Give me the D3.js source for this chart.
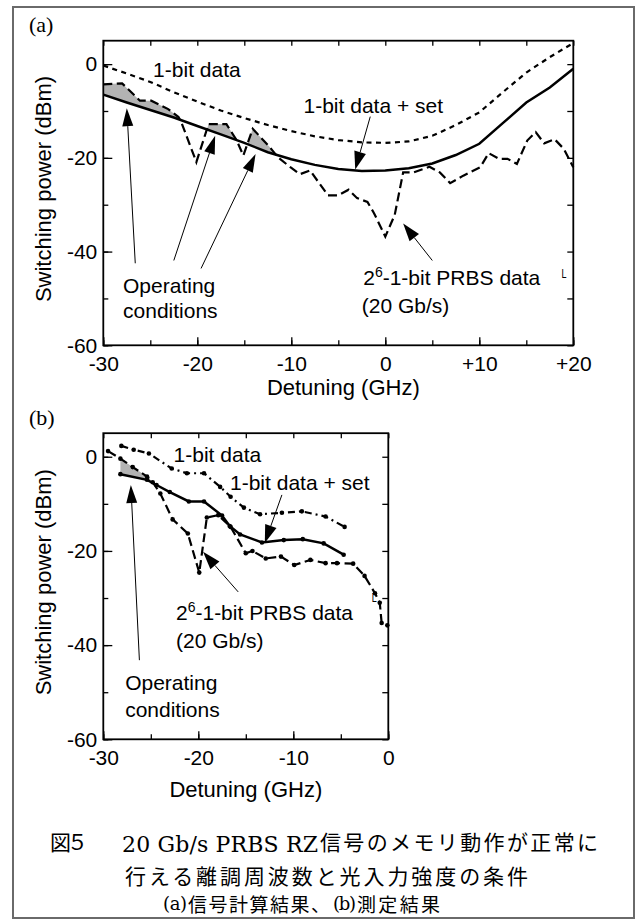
<!DOCTYPE html>
<html>
<head>
<meta charset="utf-8">
<script src="https://cdn.jsdelivr.net/npm/d3@7"></script>
<style>
  body { margin: 0; background: #fff; }
  svg text { font-family: "Liberation Sans", Arial, sans-serif; fill: #000; }
</style>
</head>
<body>
<svg id="fig" width="642" height="924"></svg>
<script>
// ---- tick values ----
const xTicksA = [-30, -20, -10, 0, 10, 20];
const xTicksB = [-30, -20, -10, 0];
const yTicks = [0, -20, -40, -60];

// ---- (a) calculation: [detuning GHz, switching power dBm] ----
const calcOneBit = [[-30,-0.3],[-27.5,-2],[-25,-3.8],[-22.5,-6],[-20,-8],[-17.5,-9.9],[-15,-11.5],[-12.5,-13],
  [-10,-14.3],[-7.5,-15.4],[-5,-16.2],[-2.5,-16.7],[0,-16.8],[2.5,-16.5],[5,-15.3],[7.5,-13],[10,-10.3],
  [12.5,-6],[15,-1.8],[17.5,1.5],[20,4.5]];
const calcOneBitSet = [[-30,-6.5],[-27.5,-8.2],[-25,-9.8],[-22.5,-11.4],[-20,-13.2],[-17.5,-15],[-15,-16.8],
  [-12.5,-18.8],[-10,-20.3],[-7.5,-21.5],[-5,-22.4],[-2.5,-22.8],[0,-22.7],[2.5,-22.2],[5,-21.2],[7.5,-19.4],
  [10,-17],[12.5,-12.6],[15,-8.2],[17.5,-5],[20,-1]];
const calcPrbs = [[-30,-4.3],[-28,-4.1],[-26.1,-7.8],[-24.9,-7.8],[-23.1,-9.6],[-22,-11.3],[-21.7,-12.4],
  [-20.1,-20.9],[-18.8,-12.8],[-16.9,-12.8],[-15.8,-16.3],[-15.1,-19.5],[-14.1,-13.8],[-12.3,-17.7],
  [-11.4,-19.9],[-10.1,-22],[-9.1,-23.5],[-8,-22.7],[-6.1,-28],[-5,-28],[-3.9,-26.8],[-3,-28.6],[-1.9,-29.4],
  [-1.2,-31.8],[0,-36.8],[1,-32.2],[1.9,-23.1],[3,-23.1],[4.7,-21.9],[5.8,-23.1],[6.9,-25.4],[8.3,-23.8],
  [10.1,-22],[11,-19],[12.1,-20.2],[13,-20.2],[14,-21.3],[15.1,-16.3],[16,-14.5],[16.9,-16.9],[18,-16],
  [19,-18.1],[20,-22]];

// ---- (b) measurement ----
const measOneBit = [[-28.1,2.3],[-26.8,1.5],[-25.2,0.7],[-22.8,-2.5],[-21.2,-3.5],[-19.4,-3.5],[-17.7,-6.4],
  [-16.6,-8.5],[-15.2,-10.8],[-13.5,-12.2],[-11.2,-11.9],[-9.1,-11.6],[-6.6,-12.7],[-4.6,-14.9]];
const measOneBitSet = [[-28.2,-3.7],[-25.4,-4.9],[-24.4,-6],[-23,-7.5],[-21,-9.5],[-19.4,-9.5],[-17.5,-12.5],
  [-16.7,-14.7],[-15.6,-16.5],[-13.3,-18.2],[-11,-17.7],[-9,-17.5],[-6.8,-18.4],[-4.7,-20.8]];
const measPrbs = [[-29.5,1.2],[-28.2,-0.4],[-26.9,-2.2],[-25.4,-4.2],[-24.8,-5.4],[-24,-7.8],[-22.7,-13.3],
  [-21.1,-16.3],[-19.9,-24.6],[-19.1,-12.9],[-17.9,-12.4],[-16.6,-14.9],[-15,-20.5],[-14.3,-20],[-12.9,-21.6],
  [-11.3,-21.2],[-9.9,-23],[-8.2,-21.9],[-6.6,-22.6],[-5.4,-22.6],[-3.7,-22.7],[-2.5,-25.3],[-1.4,-29],
  [-0.9,-31],[-0.7,-35.3],[-0.1,-35.8]];

const svg = d3.select("#fig");

// outer frame
svg.append("rect").attr("x", 13).attr("y", 7).attr("width", 621).attr("height", 911)
  .attr("fill", "none").attr("stroke", "#6a6a6a").attr("stroke-width", 2);

const fmtX = d => d > 0 ? "+" + d : String(d);

// linear interpolation inside a series
function interp(series, x) {
  const i = d3.bisector(d => d[0]).right(series, x);
  if (i <= 0) return series[0][1];
  if (i >= series.length) return series[series.length - 1][1];
  const a = series[i - 1], b = series[i];
  return a[1] + (b[1] - a[1]) * (x - a[0]) / (b[0] - a[0]);
}

// points for the gray area where "upper" is above "lower"
function shadePoints(upper, lower) {
  const lo = Math.max(upper[0][0], lower[0][0]);
  const hi = Math.min(upper[upper.length - 1][0], lower[lower.length - 1][0]);
  let xs = Array.from(new Set(upper.concat(lower).map(d => d[0])))
    .filter(x => x >= lo && x <= hi).concat([lo, hi]);
  xs = Array.from(new Set(xs)).sort((a, b) => a - b);
  let out = [];
  for (let i = 0; i < xs.length; i++) {
    out.push(xs[i]);
    if (i < xs.length - 1) {
      const d0 = interp(upper, xs[i]) - interp(lower, xs[i]);
      const d1 = interp(upper, xs[i + 1]) - interp(lower, xs[i + 1]);
      if (d0 * d1 < 0) out.push(xs[i] + (xs[i + 1] - xs[i]) * d0 / (d0 - d1));
    }
  }
  return out.map(x => ({x: x, lo: interp(lower, x), hi: Math.max(interp(upper, x), interp(lower, x))}));
}

function arrow(g, x1, y1, x2, y2, len, half) {
  const ang = Math.atan2(y2 - y1, x2 - x1);
  const bx = x2 - len * Math.cos(ang), by = y2 - len * Math.sin(ang);
  g.append("line").attr("x1", x1).attr("y1", y1).attr("x2", bx).attr("y2", by)
    .attr("stroke", "#000").attr("stroke-width", 1);
  g.append("path")
    .attr("d", `M${x2},${y2}L${bx + half * Math.sin(ang)},${by - half * Math.cos(ang)}L${bx - half * Math.sin(ang)},${by + half * Math.cos(ang)}Z`)
    .attr("fill", "#000");
}

function drawPanel(p) {
  const x = d3.scaleLinear().domain(p.xDomain).range(p.xRange);
  const y = d3.scaleLinear().domain([-60, 5]).range(p.yRange);
  const g = svg.append("g");
  const [x0, x1] = p.xRange, [yB, yT] = p.yRange;

  // panel letter
  g.append("text").attr("x", 29).attr("y", p.letterY)
    .style("font-family", "'Liberation Serif', 'Times New Roman', serif").style("font-size", "22px")
    .text(p.letter);

  // gray operating region
  const area = d3.area().x(d => x(d.x)).y0(d => y(d.lo)).y1(d => y(d.hi));
  g.append("path").datum(shadePoints(p.prbs, p.set)).attr("d", area)
    .attr("fill", "#b3b3b3").attr("stroke", "none");

  const line = d3.line().x(d => x(d[0])).y(d => y(d[1]));
  g.append("path").datum(p.oneBit).attr("d", line).attr("fill", "none")
    .attr("stroke", "#000").attr("stroke-width", 2.2).attr("stroke-dasharray", p.oneBitDash);
  g.append("path").datum(p.prbs).attr("d", line).attr("fill", "none")
    .attr("stroke", "#000").attr("stroke-width", 2.2).attr("stroke-dasharray", "9,4.5");
  g.append("path").datum(p.set).attr("d", line).attr("fill", "none")
    .attr("stroke", "#000").attr("stroke-width", 2.5);

  if (p.markers) {
    [p.oneBit, p.prbs, p.set].forEach(s => {
      g.selectAll(null).data(s).enter().append("circle")
        .attr("cx", d => x(d[0])).attr("cy", d => y(d[1])).attr("r", 2.3).attr("fill", "#000");
    });
  }

  // frame and inward ticks
  g.append("rect").attr("x", x0).attr("y", yT).attr("width", x1 - x0).attr("height", yB - yT)
    .attr("fill", "none").attr("stroke", "#000").attr("stroke-width", 1.8);

  const minorX = d3.range(p.xDomain[0], p.xDomain[1] + 0.1, 5);
  const minorY = d3.range(-60, 1, 10);
  const axB = g.append("g").attr("transform", `translate(0,${yB})`)
    .call(d3.axisBottom(x).tickValues(minorX).tickSizeInner(-5).tickSizeOuter(0).tickFormat(""));
  const axT = g.append("g").attr("transform", `translate(0,${yT})`)
    .call(d3.axisTop(x).tickValues(minorX).tickSizeInner(-5).tickSizeOuter(0).tickFormat(""));
  const axBm = g.append("g").attr("transform", `translate(0,${yB})`)
    .call(d3.axisBottom(x).tickValues(p.xTicks).tickSizeInner(-8).tickSizeOuter(0).tickPadding(9).tickFormat(fmtX));
  const axL = g.append("g").attr("transform", `translate(${x0},0)`)
    .call(d3.axisLeft(y).tickValues(minorY).tickSizeInner(-5).tickSizeOuter(0).tickFormat(""));
  const axLm = g.append("g").attr("transform", `translate(${x0},0)`)
    .call(d3.axisLeft(y).tickValues(yTicks).tickSizeInner(-9).tickSizeOuter(0).tickPadding(6).tickFormat(d => String(d)));
  const axR = g.append("g").attr("transform", `translate(${x1},0)`)
    .call(d3.axisRight(y).tickValues(minorY).tickSizeInner(-6).tickSizeOuter(0).tickFormat(""));
  [axB, axT, axBm, axL, axLm, axR].forEach(a => {
    a.select(".domain").remove();
    a.selectAll("line").attr("stroke", "#000").attr("stroke-width", 1.3);
    a.selectAll("text").style("font-family", "'Liberation Sans', Arial, sans-serif")
      .style("font-size", "21px").attr("fill", "#000");
  });
  axBm.selectAll("text").attr("dy", "0.78em");

  // axis titles
  g.append("text").attr("x", (x0 + x1) / 2 + p.titleShift).attr("y", p.xTitleY)
    .attr("text-anchor", "middle").style("font-size", "22px").text("Detuning (GHz)");
  g.append("text").attr("transform", `translate(51,${(yB + yT) / 2 - 4}) rotate(-90)`)
    .attr("text-anchor", "middle").style("font-size", "22px").text("Switching power (dBm)");

  // labels
  p.labels.forEach(l => {
    const t = g.append("text").attr("x", x(l.x)).attr("y", y(l.y)).style("font-size", "21px");
    if (l.sup) {
      t.append("tspan").text("2");
      t.append("tspan").attr("dy", -8).style("font-size", "14px").text("6");
      t.append("tspan").attr("dy", 8).text("-1-bit PRBS data");
    } else {
      t.text(l.text);
    }
  });
  // small stray "L" mark beside the PRBS label
  g.append("text").attr("x", x(p.mark[0])).attr("y", y(p.mark[1]))
    .style("font-size", "13px").attr("textLength", 5).attr("lengthAdjust", "spacingAndGlyphs")
    .attr("fill", "#888").text("L");

  // arrows
  p.arrows.forEach(a => arrow(g, x(a[0]), y(a[1]), x(a[2]), y(a[3]), a[4], a[5]));
}

drawPanel({
  letter: "(a)", letterY: 32,
  xDomain: [-30, 20], xRange: [103.3, 573.3], yRange: [345.3, 40.7],
  xTicks: xTicksA, xTitleY: 395, titleShift: 5,
  oneBit: calcOneBit, set: calcOneBitSet, prbs: calcPrbs,
  oneBitDash: "5,4.5", markers: false,
  labels: [
    {text: "1-bit data", x: -24.7, y: -2.85},
    {text: "1-bit data + set", x: -8.7, y: -10.5},
    {sup: true, x: -2.35, y: -47.2},
    {text: "(20 Gb/s)", x: -2.5, y: -53.2},
    {text: "Operating", x: -27.9, y: -48.9},
    {text: "conditions", x: -27.9, y: -54.2}
  ],
  mark: [18.75, -45.7],
  arrows: [
    [-26.6, -42.5, -27.5, -9.4, 18, 5.5],
    [-22.5, -41.9, -18.1, -15.3, 18, 5.5],
    [-19.6, -43.6, -13.8, -19.2, 18, 5.5],
    [-1.6, -11.2, -3.2, -22.5, 18, 6],
    [5, -41.9, 1.9, -34, 18, 6]
  ]
});

drawPanel({
  letter: "(b)", letterY: 425,
  xDomain: [-30, 0], xRange: [103.3, 388.3], yRange: [739.3, 433.2],
  xTicks: xTicksB, xTitleY: 797, titleShift: 0,
  oneBit: measOneBit, set: measOneBitSet, prbs: measPrbs,
  oneBitDash: "7,4,2,4", markers: true,
  labels: [
    {text: "1-bit data", x: -22.6, y: -1.06},
    {text: "1-bit data + set", x: -16.66, y: -7.07},
    {sup: true, x: -22.35, y: -34.7},
    {text: "(20 Gb/s)", x: -22.35, y: -40.6},
    {text: "Operating", x: -27.7, y: -49.5},
    {text: "conditions", x: -27.7, y: -55.2}
  ],
  mark: [-1.75, -30.9],
  arrows: [
    [-26.2, -43.2, -27.1, -6, 18, 5.5],
    [-11.2, -8.1, -13, -18.3, 18, 6],
    [-15.8, -28.7, -19.5, -20.2, 18, 6]
  ]
});

// caption
const cap = svg.append("g");
const cjk = "'Noto Sans CJK JP', 'Noto Sans CJK SC', sans-serif";
const serif = "'DejaVu Serif', 'Liberation Serif', serif";
function capText(txt, x, y, font, size, len) {
  const t = cap.append("text").attr("x", x).attr("y", y)
    .style("font-family", font).style("font-size", size + "px").text(txt);
  if (len) t.attr("textLength", len).attr("lengthAdjust", "spacing");
}
capText("図５", 50, 850, cjk, 21, 38);
capText("20 Gb/s PRBS RZ", 122, 852, serif, 22, 196);
capText("信号のメモリ動作が正常に", 320, 850, cjk, 21, 278);
capText("行える離調周波数と光入力強度の条件", 125, 884, cjk, 21, 403);
capText("(a)", 163, 910, serif, 18, 24);
capText("信号計算結果、", 188, 912, cjk, 19, 142);
capText("(b)", 333, 910, serif, 18, 23);
capText("測定結果", 357, 912, cjk, 19, 83);
</script>
</body>
</html>
